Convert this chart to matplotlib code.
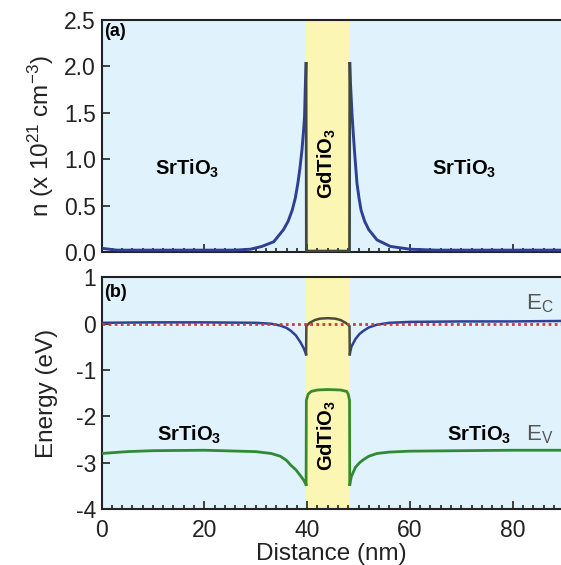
import matplotlib
matplotlib.use('Agg')
import matplotlib.pyplot as plt
from matplotlib.ticker import MultipleLocator, FormatStrFormatter

plt.rcParams['font.family'] = ['Liberation Sans', 'DejaVu Sans']
plt.rcParams['mathtext.fontset'] = 'custom'
plt.rcParams['mathtext.rm'] = 'Liberation Sans'
plt.rcParams['mathtext.bf'] = 'Liberation Sans:bold'
plt.rcParams['mathtext.default'] = 'regular'
plt.rcParams['axes.unicode_minus'] = False

# GdTiO3 layer boundaries (nm)
well = [39.8, 48.3]

# (a) carrier density, n (x 1e21 cm^-3)
n_left_x = [0, 3, 10, 20, 26, 29, 31.2, 33.5, 35.4, 36.3, 37.1, 37.7, 38.2, 38.6, 39.0, 39.3, 39.5, 39.66, 39.8]
n_left = [0.04, 0.02, 0.02, 0.02, 0.02, 0.03, 0.06, 0.11, 0.24, 0.33, 0.45, 0.58, 0.74, 0.90, 1.10, 1.30, 1.46, 1.80, 2.03]
n_in_x = [39.8, 39.85, 44.0, 48.25, 48.3]
n_in = [2.03, 0.01, 0.01, 0.01, 2.03]
n_right_x = [48.3, 48.45, 48.76, 49.2, 49.7, 50.1, 50.5, 51.2, 52.0, 53.6, 56.2, 60, 65, 70, 80, 89.4]
n_right = [2.03, 1.80, 1.46, 1.10, 0.74, 0.58, 0.45, 0.33, 0.24, 0.13, 0.06, 0.03, 0.02, 0.02, 0.02, 0.02]

# (b) conduction band edge E_C (eV)
ec_left_x = [0, 10, 20, 30, 33, 34.8, 36, 36.8, 37.8, 38.7, 39.3, 39.8]
ec_left = [0.02, 0.03, 0.03, 0.02, 0.0, -0.04, -0.09, -0.15, -0.25, -0.40, -0.52, -0.66]
ec_in_x = [39.8, 39.85, 40.5, 41.5, 42.5, 44.0, 45.5, 46.5, 47.5, 48.25, 48.3]
ec_in = [-0.66, -0.05, 0.02, 0.08, 0.11, 0.12, 0.11, 0.08, 0.02, -0.05, -0.66]
ec_right_x = [48.3, 48.6, 49.4, 50.2, 51, 52, 53.6, 56, 60, 70, 80, 89.4]
ec_right = [-0.66, -0.50, -0.33, -0.22, -0.15, -0.08, -0.02, 0.02, 0.04, 0.05, 0.05, 0.06]

# (b) valence band edge E_V (eV)
ev_left_x = [0, 5, 10, 20, 30, 33, 34.8, 36, 36.8, 37.8, 38.7, 39.3, 39.8]
ev_left = [-2.80, -2.76, -2.74, -2.73, -2.76, -2.80, -2.86, -2.95, -3.05, -3.15, -3.28, -3.37, -3.47]
ev_in_x = [39.8, 39.85, 40.2, 40.8, 42.0, 44.0, 46.5, 47.7, 48.0, 48.25, 48.3]
ev_in = [-3.47, -1.65, -1.52, -1.46, -1.43, -1.42, -1.43, -1.46, -1.52, -1.65, -3.47]
ev_right_x = [48.3, 48.6, 49.4, 50.2, 51, 52, 53.6, 56, 60, 70, 80, 89.4]
ev_right = [-3.47, -3.30, -3.10, -3.00, -2.93, -2.86, -2.80, -2.77, -2.75, -2.74, -2.73, -2.73]

fermi_x = [0, 89.4]
fermi = [0, 0]

bg_blue = '#e0f3fc'
yellow = '#fbf6b3'
blue = '#2e3f94'
green = '#2f8a34'
ink = '#222222'

fig = plt.figure(figsize=(5.61, 5.65), dpi=100)
ax1 = fig.add_axes([0.181, 0.554, 0.819, 0.411])
ax2 = fig.add_axes([0.181, 0.099, 0.819, 0.410])

for ax in (ax1, ax2):
    ax.set_facecolor(bg_blue)
    ax.axvspan(well[0], well[1], color=yellow, zorder=0.5, lw=0)
    ax.set_xlim(0, 89.4)
    ax.xaxis.set_major_locator(MultipleLocator(20))
    ax.xaxis.set_minor_locator(MultipleLocator(2))
    ax.tick_params(which='both', direction='in', top=False, right=False, width=1.2, colors=ink)
    ax.tick_params(which='major', length=6, labelsize=16.5, labelcolor=ink, pad=4)
    ax.tick_params(which='minor', length=3)
    ax.tick_params(axis='x', which='major', pad=7)
    ax.spines['right'].set_visible(False)
    for s in ('left', 'top', 'bottom'):
        ax.spines[s].set_linewidth(1.5)
        ax.spines[s].set_color(ink)

# panel (a)
ax1.plot(n_left_x, n_left, color=blue, lw=2.1, zorder=3)
ax1.plot(n_right_x, n_right, color=blue, lw=2.1, zorder=3)
ax1.plot(n_in_x, n_in, color='#3f4840', lw=2.0, zorder=3)
ax1.set_ylim(0, 2.5)
ax1.yaxis.set_major_locator(MultipleLocator(0.5))
ax1.yaxis.set_major_formatter(FormatStrFormatter('%.1f'))
ax1.tick_params(axis='x', labelbottom=False)
ax1.set_ylabel('n (x 10$^{21}$ cm$^{-3}$)', fontsize=17.5, color=ink, labelpad=6)

ax1.text(0.6, 2.46, '(a)', fontsize=13, fontweight='bold', ha='left', va='top')
ax1.text(16.7, 0.9, r'$\mathbf{SrTiO_3}$', fontsize=14.5, ha='center', va='center')
ax1.text(70.5, 0.9, r'$\mathbf{SrTiO_3}$', fontsize=14.5, ha='center', va='center')
ax1.text(43.9, 0.95, r'$\mathbf{GdTiO_3}$', fontsize=14.5, rotation=90, ha='center', va='center', zorder=4)

# panel (b)
ax2.plot(ec_left_x, ec_left, color=blue, lw=1.8, zorder=3)
ax2.plot(ec_right_x, ec_right, color=blue, lw=1.8, zorder=3)
ax2.plot(ec_in_x, ec_in, color='#4b4a3c', lw=1.8, zorder=3)
ax2.plot(ev_left_x, ev_left, color=green, lw=2.0, zorder=3)
ax2.plot(ev_right_x, ev_right, color=green, lw=2.0, zorder=3)
ax2.plot(ev_in_x, ev_in, color='#3a8a2a', lw=2.0, zorder=3)
ax2.plot(fermi_x, fermi, color='#d03a3a', lw=2.0, ls=(0, (1, 1.2)), zorder=4)
ax2.set_ylim(-4, 1)
ax2.yaxis.set_major_locator(MultipleLocator(1))
ax2.set_ylabel('Energy (eV)', fontsize=17.5, color=ink, labelpad=13)
ax2.set_xlabel('Distance (nm)', fontsize=17.5, color=ink, labelpad=1)

ax2.text(0.6, 0.86, '(b)', fontsize=13, fontweight='bold', ha='left', va='top')
ax2.text(17.0, -2.39, r'$\mathbf{SrTiO_3}$', fontsize=14.5, ha='center', va='center')
ax2.text(73.4, -2.39, r'$\mathbf{SrTiO_3}$', fontsize=14.5, ha='center', va='center')
ax2.text(43.9, -2.41, r'$\mathbf{GdTiO_3}$', fontsize=14.5, rotation=90, ha='center', va='center', zorder=4)
ax2.text(85.3, 0.44, 'E$_C$', fontsize=16, color='#555555', ha='center', va='center')
ax2.text(85.3, -2.39, 'E$_V$', fontsize=16, color='#555555', ha='center', va='center')

fig.savefig('out.png', dpi=100)
